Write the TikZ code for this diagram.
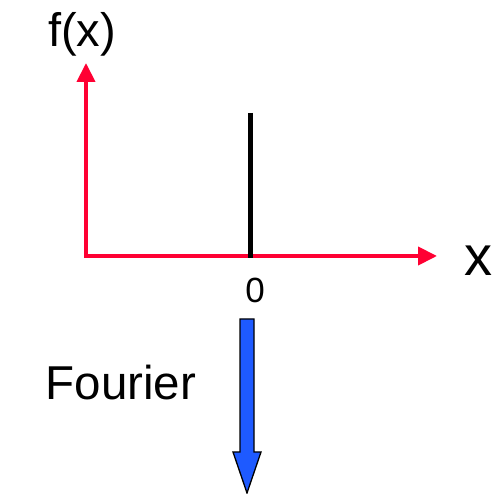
\documentclass[tikz,border=0pt]{standalone}
\usepackage{fontspec}
\setmainfont{Liberation Sans}
\usetikzlibrary{arrows.meta}
\definecolor{axisred}{RGB}{255,0,51}
\definecolor{arrowblue}{RGB}{30,90,255}
\begin{document}
\begin{tikzpicture}[x=1pt,y=1pt,>={Triangle[length=19pt,width=18pt]},
    axis/.style={draw=axisred,line width=4pt},
    lbl/.style={inner sep=0pt,anchor=base}]
        \useasboundingbox (0,0) rectangle (491,494);
        \coordinate (origin) at (86,238);
        \coordinate (xend) at (437,238);
        \coordinate (yend) at (86,431);
        \draw[axis,->] (84,238) -- (xend);
        \draw[axis,->] (origin) -- (yend);
        \draw[line width=5pt] (250,381) -- (250,236);
        \node (fx) [lbl] at (82,447) {\fontsize{47}{50}\selectfont f(x)};
        \node (xlabel) [lbl] at (478,218) {\fontsize{56}{60}\selectfont x};
        \node (zero) [lbl] at (255,191) {\fontsize{35}{40}\selectfont 0};
        \node (fourier) [lbl] at (121,94) {\fontsize{47.5}{50}\selectfont Fourier};
        % transform arrow
        \filldraw[fill=arrowblue,draw=black,line width=1.3pt]
            (240,175) -- (254,175) -- (254,42) -- (261,42) -- (247,1)
            -- (233,42) -- (240,42) -- cycle;
    \end{tikzpicture}
\end{document}
